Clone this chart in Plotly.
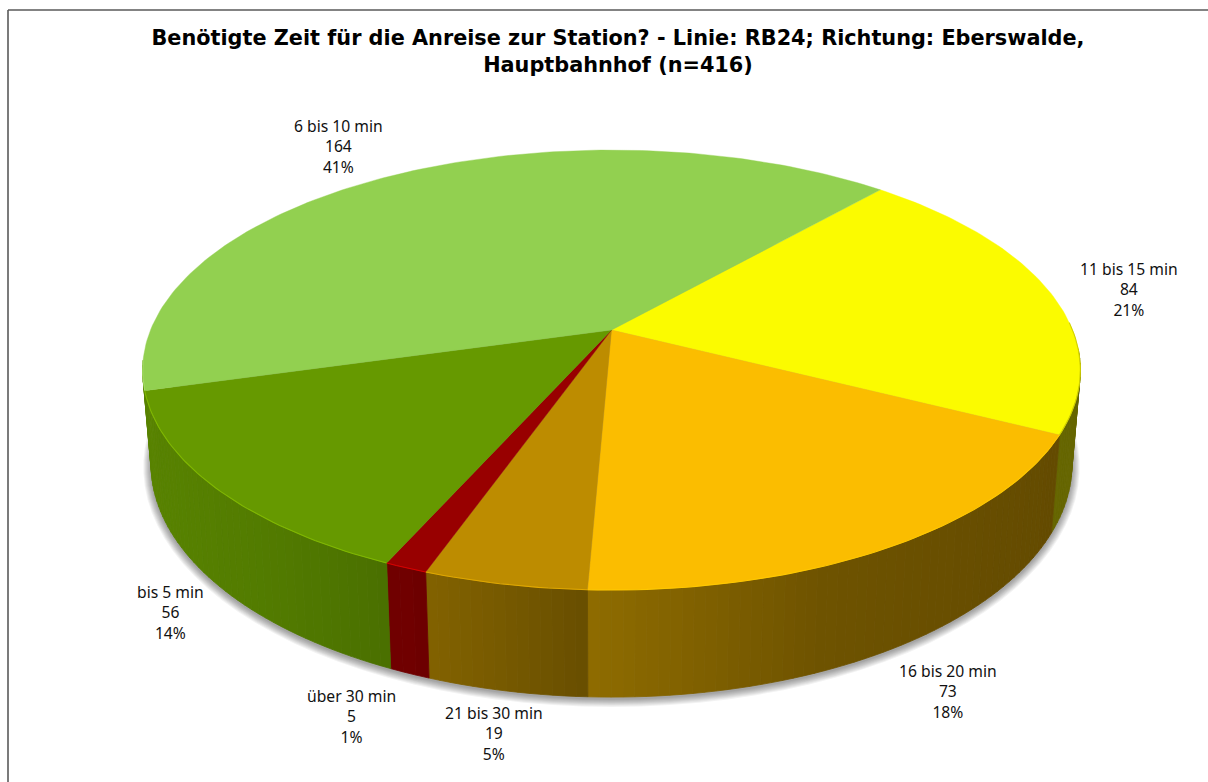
import math
import plotly.graph_objects as go

# ---- data ----
categories = ["11 bis 15 min", "16 bis 20 min", "21 bis 30 min", "über 30 min", "bis 5 min", "6 bis 10 min"]
values = [84, 73, 19, 5, 56, 164]
title_text = "Benötigte Zeit für die Anreise zur Station? - Linie: RB24; Richtung: Eberswalde,<br>Hauptbahnhof (n=416)"

# ---- styles ----
top_colors = ["#FBFB00", "#FBBD00", "#BD8C00", "#980000", "#669900", "#92D050"]
rim_colors = ["#D0D000", "#FFC800", "#E0A800", "#D80000", "#80B800", "#A4DC66"]
# wall colour stops: (left, middle, right) as seen on screen
wall_stops = [
    ("#666600", "#666600", "#666600"),
    ("#8F6C00", "#6E5300", "#644B00"),
    ("#826200", "#765900", "#684E00"),
    ("#700000", "#700000", "#6C0000"),
    ("#588300", "#527B00", "#4A7000"),
    ("#588300", "#588300", "#588300"),
]
label_xy = [(1129, 289), (948, 691), (494, 733), (351, 716), (170, 612), (338, 146)]

# ---- pie geometry (perspective projection of a disc) ----
CX, CY = 611.5, 330.0
AX, BY, K = 461.0, 212.7, 0.182
START_DEG = 41.5
LOW_SX, LOW_SY, LOW_DY = 0.982, 1.058, 92.0


def top_pt(deg):
    a = math.radians(deg)
    X, Y = math.sin(a), math.cos(a)
    d = 1 + K * Y
    return CX + AX * X / d, CY - BY * Y / d


def low_pt(deg):
    x, y = top_pt(deg)
    return CX + LOW_SX * (x - CX), CY + LOW_DY + LOW_SY * (y - CY)


def hex_rgb(h):
    return tuple(int(h[i:i + 2], 16) for i in (1, 3, 5))


def mix(c1, c2, t):
    a, b = hex_rgb(c1), hex_rgb(c2)
    return "rgb(%d,%d,%d)" % tuple(round(a[i] + (b[i] - a[i]) * t) for i in range(3))


def frange(a, b, step):
    n = max(2, int(abs(b - a) / step) + 1)
    return [a + (b - a) * i / (n - 1) for i in range(n)]


total = sum(values)
fig = go.Figure()


def poly(xs, ys, fill, line=None, lw=0.0):
    fig.add_trace(go.Scatter(
        x=xs, y=ys, mode="lines", fill="toself", fillcolor=fill,
        line=dict(color=line or fill, width=lw), hoverinfo="skip", showlegend=False))


# soft shadow below the lower disc
for grow in range(8, 0, -1):
    xs, ys = [], []
    for d in frange(0, 360, 3):
        x, y = low_pt(d)
        xs.append(CX + (x - CX) * (1 + grow / 470.0))
        ys.append(CY + LOW_DY + (y - CY - LOW_DY) * (1 + grow / 265.0) + 1.5)
    poly(xs, ys, "rgba(0,0,0,0.05)")

# cumulative angles
spans = []
ang = START_DEG
for v in values:
    end = ang + v / total * 360.0
    spans.append((ang, end))
    ang = end

# side walls (front-facing part only)
for i, (a0, a1) in enumerate(spans):
    lo, hi = max(a0, 95.0), min(a1, 262.0)
    if hi <= lo:
        continue
    left, mid, right = wall_stops[i]
    steps = frange(lo, hi, 1.2)
    xa, xb = low_pt(a0)[0], low_pt(a1)[0]
    x_left, x_right = min(xa, xb), max(xa, xb)
    for s0, s1 in zip(steps[:-1], steps[1:]):
        xm = low_pt((s0 + s1) / 2)[0]
        t = (xm - x_left) / max(1.0, x_right - x_left)
        col = mix(left, mid, t * 2) if t < 0.5 else mix(mid, right, t * 2 - 1)
        p = [top_pt(s0), top_pt(s1), low_pt(s1), low_pt(s0)]
        poly([q[0] for q in p] + [p[0][0]], [q[1] for q in p] + [p[0][1]], col, lw=0.8)

# top face
for i, (a0, a1) in enumerate(spans):
    arc = [top_pt(d) for d in frange(a0, a1, 1.0)]
    poly([CX] + [q[0] for q in arc] + [CX], [CY] + [q[1] for q in arc] + [CY], top_colors[i], lw=0.4)

# bevel highlight along the rim
for i, (a0, a1) in enumerate(spans):
    lo, hi = max(a0, 88.0), min(a1, 262.0)
    if hi <= lo:
        continue
    arc = [top_pt(d) for d in frange(lo, hi, 1.0)]
    fig.add_trace(go.Scatter(x=[q[0] for q in arc], y=[q[1] for q in arc], mode="lines",
                             line=dict(color=rim_colors[i], width=1.1), hoverinfo="skip", showlegend=False))

# labels
for cat, val, (lx, ly) in zip(categories, values, label_xy):
    fig.add_annotation(
        x=lx, y=ly, xref="x", yref="y", showarrow=False, align="center",
        text=f"{cat}<br>{val}<br>{round(val / total * 100)}%",
        font=dict(family="Noto Sans, DejaVu Sans, sans-serif", size=15.7, color="#111111"))

frame = dict(color="#5A5A5A", width=1.6)
fig.update_layout(
    width=1208, height=782, autosize=False,
    margin=dict(l=0, r=0, t=0, b=0),
    paper_bgcolor="white", plot_bgcolor="white", showlegend=False,
    title=dict(text=title_text, x=618 / 1208, xanchor="center", y=1 - 45 / 782, yanchor="top",
               yref="container", font=dict(family="DejaVu Sans, sans-serif",
                                            size=20.8, color="black", weight="bold")),
    xaxis=dict(range=[0, 1208], visible=False, fixedrange=True),
    yaxis=dict(range=[782, 0], visible=False, fixedrange=True),
    shapes=[
        dict(type="line", xref="x", yref="y", x0=8, x1=1208, y0=10, y1=10, line=frame),
        dict(type="line", xref="x", yref="y", x0=8, x1=8, y0=10, y1=782, line=frame),
    ],
)
fig.write_html("out.html", config=dict(displayModeBar=False),
               post_script="document.body.style.margin='0';document.body.style.overflow='hidden';")
